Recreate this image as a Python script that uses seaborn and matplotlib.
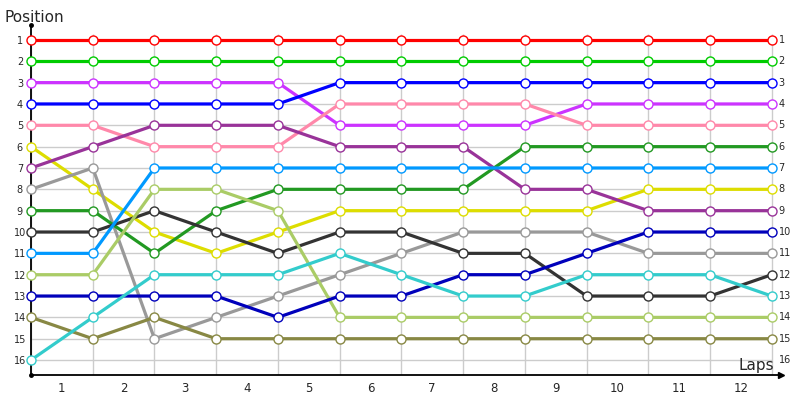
import pandas as pd
import seaborn as sns
import matplotlib.pyplot as plt

# =============================================================================
# 1. DATA (position of each driver after every lap, lap 0 = start)
# =============================================================================
laps = list(range(13))
lap_labels = [str(i) for i in range(1, 13)]
positions = list(range(1, 17))

red = [1, 1, 1, 1, 1, 1, 1, 1, 1, 1, 1, 1, 1]
green = [2, 2, 2, 2, 2, 2, 2, 2, 2, 2, 2, 2, 2]
magenta = [3, 3, 3, 3, 3, 5, 5, 5, 5, 4, 4, 4, 4]
blue = [4, 4, 4, 4, 4, 3, 3, 3, 3, 3, 3, 3, 3]
pink = [5, 5, 6, 6, 6, 4, 4, 4, 4, 5, 5, 5, 5]
yellow = [6, 8, 10, 11, 10, 9, 9, 9, 9, 9, 8, 8, 8]
purple = [7, 6, 5, 5, 5, 6, 6, 6, 8, 8, 9, 9, 9]
grey = [8, 7, 15, 14, 13, 12, 11, 10, 10, 10, 11, 11, 11]
dark_green = [9, 9, 11, 9, 8, 8, 8, 8, 6, 6, 6, 6, 6]
dark_grey = [10, 10, 9, 10, 11, 10, 10, 11, 11, 13, 13, 13, 12]
light_blue = [11, 11, 7, 7, 7, 7, 7, 7, 7, 7, 7, 7, 7]
light_green = [12, 12, 8, 8, 9, 14, 14, 14, 14, 14, 14, 14, 14]
navy = [13, 13, 13, 13, 14, 13, 13, 12, 12, 11, 10, 10, 10]
olive = [14, 15, 14, 15, 15, 15, 15, 15, 15, 15, 15, 15, 15]
cyan = [16, 14, 12, 12, 12, 11, 12, 13, 13, 12, 12, 12, 13]

drivers = {
    'red': red, 'green': green, 'magenta': magenta, 'blue': blue,
    'pink': pink, 'yellow': yellow, 'purple': purple, 'grey': grey,
    'dark_green': dark_green, 'dark_grey': dark_grey,
    'light_blue': light_blue, 'light_green': light_green,
    'navy': navy, 'olive': olive, 'cyan': cyan,
}

colors = {
    'red': '#ff0000', 'green': '#00cc00', 'magenta': '#cc33ff',
    'blue': '#0000ff', 'pink': '#ff88aa', 'yellow': '#dddd00',
    'purple': '#993399', 'grey': '#999999', 'dark_green': '#229922',
    'dark_grey': '#333333', 'light_blue': '#0099ff',
    'light_green': '#aacc66', 'navy': '#0000bb', 'olive': '#888844',
    'cyan': '#33cccc',
}

rows = []
for name, pos in drivers.items():
    for lap, p in zip(laps, pos):
        rows.append({'driver': name, 'lap': lap, 'position': p})
df = pd.DataFrame(rows)

# =============================================================================
# 2. PLOT
# =============================================================================
sns.set_style("white")
plt.rcParams['font.family'] = ['DejaVu Sans']

fig = plt.figure(figsize=(8, 4), dpi=100)
ax = fig.add_axes([0.03875, 0.0625, 0.9375, 0.875])

# grid
ax.hlines(positions, 0, 12, color='#cccccc', lw=1, zorder=0)
ax.vlines(laps, 0.7, 16.7, color='#cccccc', lw=1, zorder=0)

for name in drivers:
    c = colors[name]
    sns.lineplot(data=df[df['driver'] == name], x='lap', y='position',
                 color=c, lw=2.3, marker='o', markersize=6.5,
                 markerfacecolor='white', markeredgecolor=c,
                 markeredgewidth=1, ax=ax, zorder=3, clip_on=False)

ax.set_xlim(0, 12.15)
ax.set_ylim(16.7, 0.3)

ax.set_xticks([i + 0.5 for i in range(12)], lap_labels)
ax.set_yticks(positions, [str(p) for p in positions])
ax.tick_params(axis='x', length=0, labelsize=8.5, pad=5)
ax.tick_params(axis='y', length=0, labelsize=7, pad=8)
for lab in ax.get_yticklabels():
    lab.set_horizontalalignment('center')

# right-hand position labels
for p in positions:
    ax.annotate(str(p), (12, p), xytext=(5, 0), textcoords='offset points',
                ha='left', va='center', fontsize=7)

ax.set_xlabel('')
ax.set_ylabel('')
for side in ['top', 'right']:
    ax.spines[side].set_visible(False)
for side in ['left', 'bottom']:
    ax.spines[side].set_color('black')
    ax.spines[side].set_linewidth(1.3)

# axis end decorations
ax.plot([1], [0], marker='>', color='black', markersize=5,
        transform=ax.transAxes, clip_on=False)
ax.plot([0, 0], [0, 1], ls='none', marker='o', color='black', markersize=2.5,
        transform=ax.transAxes, clip_on=False)

fig.text(4 / 800, 1 - 22 / 400, 'Position', fontsize=11, ha='left',
         va='baseline')
fig.text(774 / 800, 1 - 370 / 400, 'Laps', fontsize=11, ha='right',
         va='baseline')

ax.yaxis.set_tick_params(which='both', labelleft=True)
fig.savefig('out.png', dpi=100)
